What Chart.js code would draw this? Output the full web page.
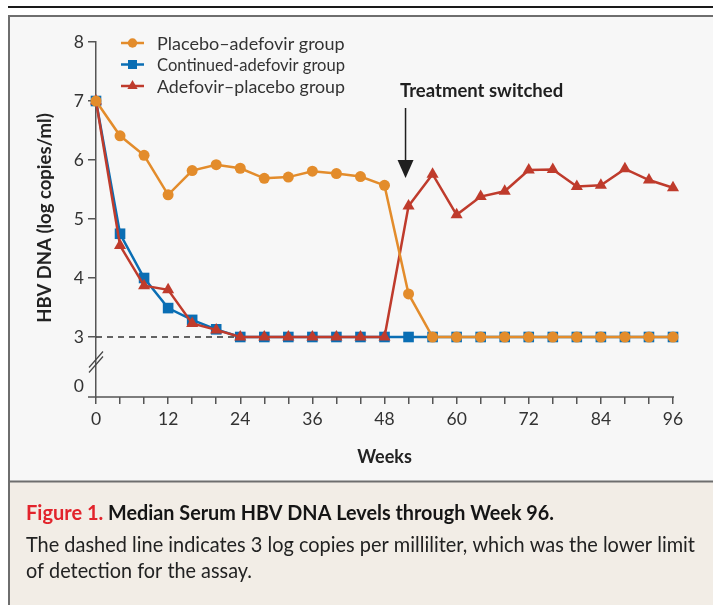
<!DOCTYPE html>
<html>
<head>
<meta charset="utf-8">
<script src="https://cdn.jsdelivr.net/npm/chart.js@4.4.1/dist/chart.umd.min.js"></script>
<style>
    html, body { margin: 0; padding: 0; background: #fff; }
    #wrap { width: 713px; height: 605px; }
</style>
</head>
<body>
<div id="wrap"><canvas id="hbvChart" width="713" height="605"></canvas></div>
<script>
// weeks of follow-up
const weeks = [0, 4, 8, 12, 16, 20, 24, 28, 32, 36, 40, 44, 48, 52, 56, 60, 64, 68, 72, 76, 80, 84, 88, 92, 96];

// median HBV DNA, log copies/ml
const placeboAdefovir   = [7.0, 6.41, 6.08, 5.41, 5.82, 5.92, 5.86, 5.69, 5.71, 5.81, 5.77, 5.72, 5.57, 3.73, 3.0, 3.0, 3.0, 3.0, 3.0, 3.0, 3.0, 3.0, 3.0, 3.0, 3.0];
const continuedAdefovir = [7.0, 4.75, 4.0, 3.49, 3.29, 3.13, 3.0, 3.0, 3.0, 3.0, 3.0, 3.0, 3.0, 3.0, 3.0, 3.0, 3.0, 3.0, 3.0, 3.0, 3.0, 3.0, 3.0, 3.0, 3.0];
const adefovirPlacebo   = [7.0, 4.55, 3.87, 3.80, 3.23, 3.12, 3.0, 3.0, 3.0, 3.0, 3.0, 3.0, 3.0, 5.22, 5.76, 5.07, 5.38, 5.47, 5.83, 5.84, 5.55, 5.57, 5.85, 5.66, 5.53];

const seriesNames = ['Placebo\u2013adefovir group', 'Continued-adefovir group', 'Adefovir\u2013placebo group'];
const yTickValues = [3, 4, 5, 6, 7, 8];
const xLabelWeeks = [0, 12, 24, 36, 48, 60, 72, 84, 96];
const lowerLimit = 3;      // dashed line, lower limit of detection
const switchWeek = 51.5;   // where the arrow points
const zeroPos = 2.17;      // the "0" label sits below the axis break

const ORANGE = '#e38c2b';
const BLUE = '#0a6eb4';
const RED = '#bf3b2c';
const FONT = 'Lato, "Open Sans", sans-serif';

function toPoints(ys) {
    return weeks.map((w, i) => ({ x: w, y: ys[i] }));
}

const decorPlugin = {
    id: 'decor',
    beforeDraw(chart) {
        const ctx = chart.ctx;
        ctx.save();
        // panels
        ctx.fillStyle = '#ffffff';
        ctx.fillRect(0, 0, 713, 605);
        ctx.fillStyle = '#f7f7f7';
        ctx.fillRect(9, 16, 704, 465);
        ctx.fillStyle = '#f2ede6';
        ctx.fillRect(9, 482, 704, 123);
        // frame
        ctx.strokeStyle = '#6e6e6e';
        ctx.lineWidth = 2;
        ctx.beginPath();
        ctx.moveTo(713, 16); ctx.lineTo(9, 16); ctx.lineTo(9, 605);
        ctx.moveTo(9, 481.5); ctx.lineTo(713, 481.5);
        ctx.stroke();
        // top rule
        ctx.strokeStyle = '#1a1a1a';
        ctx.lineWidth = 2;
        ctx.beginPath();
        ctx.moveTo(8, 7); ctx.lineTo(713, 7);
        ctx.stroke();
        ctx.restore();
    },
    afterDraw(chart) {
        const ctx = chart.ctx;
        const xs = chart.scales.x;
        const ys = chart.scales.y;
        const area = chart.chartArea;
        ctx.save();

        // x axis line, running a little left of the y axis
        ctx.strokeStyle = '#555';
        ctx.lineWidth = 1.5;
        ctx.beginPath();
        ctx.moveTo(area.left - 8, area.bottom);
        ctx.lineTo(area.right + 1, area.bottom);
        ctx.stroke();

        // axis break marks
        const bx = area.left;
        const by = (ys.getPixelForValue(lowerLimit) + ys.getPixelForValue(zeroPos)) / 2 + 1;
        ctx.strokeStyle = '#444';
        ctx.lineWidth = 1.2;
        [-3, 2].forEach(off => {
            ctx.beginPath();
            ctx.moveTo(bx - 7, by + off + 8);
            ctx.lineTo(bx + 7, by + off - 8);
            ctx.stroke();
        });

        // legend
        const legendX = 121;
        const legendY = [43, 64.5, 86];
        chart.data.datasets.slice(0, 3).forEach((ds, i) => {
            const y = legendY[i];
            ctx.strokeStyle = ds.borderColor;
            ctx.lineWidth = 2.5;
            ctx.beginPath();
            ctx.moveTo(legendX, y);
            ctx.lineTo(legendX + 23, y);
            ctx.stroke();
            ctx.fillStyle = ds.borderColor;
            Chart.helpers.drawPoint(ctx, {
                pointStyle: ds.pointStyle,
                radius: ds.pointRadius * 0.85,
                rotation: 0,
                borderWidth: 0
            }, legendX + 11.5, y);
            ctx.fillStyle = '#333';
            ctx.font = '18px ' + FONT;
            ctx.textBaseline = 'middle';
            ctx.textAlign = 'left';
            ctx.fillText(seriesNames[i], 157, y + 1, 188);
        });

        // treatment switched arrow
        const ax = xs.getPixelForValue(switchWeek);
        ctx.fillStyle = '#1f1f1f';
        ctx.font = 'bold 18.5px ' + FONT;
        ctx.textAlign = 'left';
        ctx.textBaseline = 'alphabetic';
        ctx.fillText('Treatment switched', 400, 97, 165);
        ctx.strokeStyle = '#1f1f1f';
        ctx.lineWidth = 1.5;
        ctx.beginPath();
        ctx.moveTo(ax, 108);
        ctx.lineTo(ax, 162);
        ctx.stroke();
        ctx.beginPath();
        ctx.moveTo(ax - 8, 160);
        ctx.lineTo(ax + 8, 160);
        ctx.lineTo(ax, 178);
        ctx.closePath();
        ctx.fill();

        // axis titles
        ctx.fillStyle = '#222';
        ctx.font = 'bold 18px ' + FONT;
        ctx.textAlign = 'center';
        ctx.textBaseline = 'alphabetic';
        ctx.fillText('Weeks', (area.left + area.right) / 2, 463);
        ctx.save();
        ctx.translate(51, 218);
        ctx.rotate(-Math.PI / 2);
        ctx.font = 'bold 18.5px ' + FONT;
        ctx.fillText('HBV DNA (log copies/ml)', 0, 0, 212);
        ctx.restore();

        // caption
        ctx.textAlign = 'left';
        ctx.font = 'bold 20px ' + FONT;
        ctx.fillStyle = '#e2232b';
        ctx.fillText('Figure 1.', 26, 520, 78);
        ctx.fillStyle = '#151515';
        ctx.fillText('Median Serum HBV DNA Levels through Week 96.', 108, 520, 446);
        ctx.font = '20.7px ' + FONT;
        ctx.fillStyle = '#222';
        ctx.fillText('The dashed line indicates 3 log copies per milliliter, which was the lower limit', 26, 552, 669);
        ctx.fillText('of detection for the assay.', 26, 578, 226);

        ctx.restore();
    }
};

const ctx = document.getElementById('hbvChart').getContext('2d');

new Chart(ctx, {
    type: 'line',
    data: {
        datasets: [
            {
                label: seriesNames[0],
                data: toPoints(placeboAdefovir),
                borderColor: ORANGE,
                backgroundColor: ORANGE,
                pointStyle: 'circle',
                pointRadius: 5.5,
                pointBorderWidth: 0,
                borderWidth: 2.5,
                order: 1,
                clip: false
            },
            {
                label: seriesNames[1],
                data: toPoints(continuedAdefovir),
                borderColor: BLUE,
                backgroundColor: BLUE,
                pointStyle: 'rect',
                pointRadius: 7.5,
                pointBorderWidth: 0,
                borderWidth: 2.5,
                order: 3,
                clip: false
            },
            {
                label: seriesNames[2],
                data: toPoints(adefovirPlacebo),
                borderColor: RED,
                backgroundColor: RED,
                pointStyle: 'triangle',
                pointRadius: 7,
                pointBorderWidth: 0,
                borderWidth: 2.5,
                order: 2,
                clip: false
            },
            {
                label: 'lower limit',
                data: [{ x: 0, y: lowerLimit }, { x: 96, y: lowerLimit }],
                borderColor: '#333',
                borderWidth: 1.3,
                borderDash: [6, 5],
                pointRadius: 0,
                order: 10
            }
        ]
    },
    options: {
        responsive: false,
        animation: false,
        events: [],
        // y axis box is 86 wide and x axis box 40 tall, so the plot sits at 96..673 x 42..397
        layout: { padding: { left: 10, top: 42, right: 40, bottom: 168 } },
        plugins: {
            legend: { display: false },
            tooltip: { enabled: false }
        },
        scales: {
            x: {
                type: 'linear',
                min: 0,
                max: 96,
                afterFit: s => { s.height = 40; },
                border: { display: false },
                grid: { drawOnChartArea: false, drawTicks: true, tickLength: 7, color: '#555', lineWidth: 1.5 },
                ticks: {
                    stepSize: 4,
                    autoSkip: false,
                    maxRotation: 0,
                    padding: 5,
                    color: '#333',
                    font: { family: FONT, size: 17.5 },
                    callback: v => xLabelWeeks.includes(v) ? String(v) : ''
                }
            },
            y: {
                type: 'linear',
                min: 1.983,
                max: 8,
                afterFit: s => { s.width = 86; },
                afterBuildTicks: s => {
                    s.ticks = [zeroPos].concat(yTickValues).map(v => ({ value: v }));
                },
                border: { display: true, color: '#555', width: 1.5 },
                grid: {
                    drawOnChartArea: false,
                    drawTicks: true,
                    tickLength: 8,
                    lineWidth: 1.5,
                    color: c => (c.tick && c.tick.value === zeroPos) ? 'rgba(0,0,0,0)' : '#555'
                },
                ticks: {
                    padding: 4,
                    color: '#333',
                    font: { family: FONT, size: 17.5 },
                    callback: v => v === zeroPos ? '0' : String(v)
                }
            }
        }
    },
    plugins: [decorPlugin]
});
</script>
</body>
</html>
